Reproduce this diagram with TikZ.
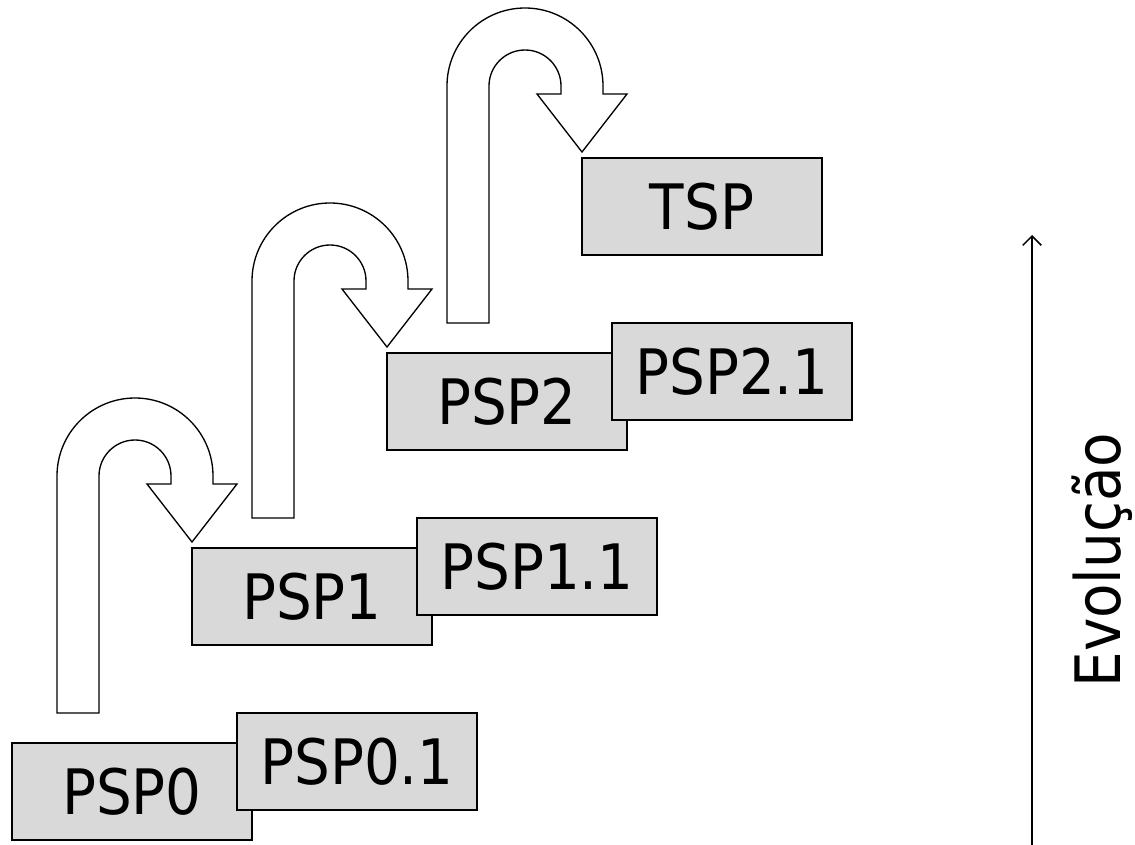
\documentclass[tikz,border=0pt]{standalone}
\usepackage{fontspec}
\setmainfont{DejaVu Sans Condensed}
\usetikzlibrary{arrows.meta}
\definecolor{boxgray}{HTML}{D9D9D9}
\tikzset{
  pspbox/.style={draw=black, line width=1.1pt, fill=boxgray, minimum width=180pt, minimum height=72.75pt, inner sep=0pt, font=\fontsize{47}{50}\selectfont},
  uturn/.style={draw=black, line width=1pt, fill=white, line join=miter}
}
\newcommand{\uturnarrow}[2]{%
  \draw[uturn, shift={(#1,#2)}] (57,713) -- (57,476) arc[start angle=180, end angle=360, radius=78]
    -- (213,484) -- (237,484) -- (192,542) -- (147,484) -- (171,484) -- (171,476)
    arc[start angle=360, end angle=180, radius=36] -- (99,713) -- cycle;}
\begin{document}
\begin{tikzpicture}[x=0.75pt, y=-0.75pt]
\useasboundingbox (0,0) rectangle (1135,845);
% U-turn arrows
\uturnarrow{0}{0}
\uturnarrow{195}{-195}
\uturnarrow{390}{-390}
% boxes
\node[pspbox] (psp0) at (132,791.5) {PSP0};
\node[pspbox] (psp01) at (357,761.5) {PSP0.1};
\node[pspbox] (psp1) at (312,596.5) {PSP1};
\node[pspbox] (psp11) at (537,566.5) {PSP1.1};
\node[pspbox] (psp2) at (507,401.5) {PSP2};
\node[pspbox] (psp21) at (732,371.5) {PSP2.1};
\node[pspbox] (tsp) at (702,206.5) {TSP};
% evolution axis
\coordinate (evbot) at (1032,845);
\coordinate (evtop) at (1032,235);
\draw[line width=1.1pt, -{Straight Barb[length=7pt, width=14pt, line width=1.1pt]}] (evbot) -- (evtop);
\node[rotate=90, font=\fontsize{47}{50}\selectfont, inner sep=0pt] (evo) at (1102,560) {Evolução};
\end{tikzpicture}
\end{document}
